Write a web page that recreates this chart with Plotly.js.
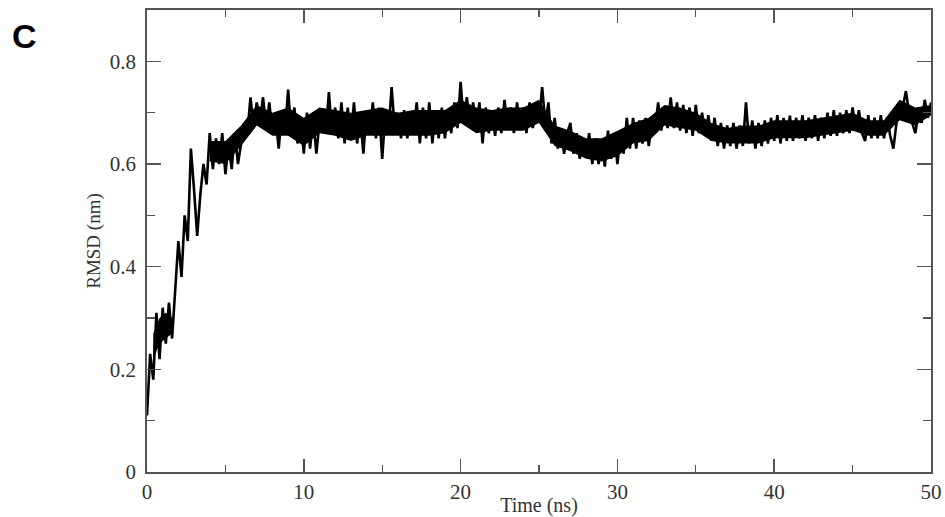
<!DOCTYPE html>
<html>
<head>
<meta charset="utf-8">
<script src="https://cdn.plot.ly/plotly-3.0.1.min.js"></script>
<style>html,body{margin:0;padding:0;background:#fff;}#chart{width:945px;height:517px;}</style>
</head>
<body>
<div id="chart"></div>
<script>
const timeStart = 0;
const timeStep = 0.2;
const rmsd = [
  0.11, 0.23, 0.18, 0.31, 0.22,
  0.32, 0.25, 0.33, 0.26, 0.36,
  0.45, 0.38, 0.50, 0.45, 0.63,
  0.55, 0.46, 0.54, 0.60, 0.56,
  0.66, 0.59, 0.65, 0.60, 0.66,
  0.58, 0.64, 0.59, 0.66, 0.60,
  0.64, 0.68, 0.66, 0.73, 0.67,
  0.72, 0.68, 0.73, 0.67, 0.72,
  0.66, 0.69, 0.63, 0.70, 0.66,
  0.745, 0.66, 0.71, 0.64, 0.69,
  0.62, 0.70, 0.63, 0.69, 0.62,
  0.68, 0.70, 0.66, 0.74, 0.66,
  0.71, 0.65, 0.72, 0.64, 0.71,
  0.65, 0.72, 0.64, 0.69, 0.62,
  0.70, 0.66, 0.72, 0.65, 0.71,
  0.61, 0.70, 0.66, 0.75, 0.67,
  0.70, 0.65, 0.705, 0.65, 0.70,
  0.66, 0.72, 0.64, 0.71, 0.65,
  0.72, 0.64, 0.70, 0.65, 0.71,
  0.65, 0.70, 0.66, 0.72, 0.67,
  0.76, 0.68, 0.73, 0.675, 0.72,
  0.67, 0.72, 0.64, 0.71, 0.66,
  0.70, 0.655, 0.71, 0.66, 0.725,
  0.67, 0.71, 0.66, 0.72, 0.67,
  0.71, 0.66, 0.72, 0.67, 0.70,
  0.68, 0.75, 0.68, 0.72, 0.64,
  0.69, 0.63, 0.67, 0.62, 0.66,
  0.68, 0.62, 0.66, 0.61, 0.65,
  0.62, 0.66, 0.60, 0.65, 0.60,
  0.64, 0.595, 0.665, 0.61, 0.66,
  0.60, 0.66, 0.62, 0.69, 0.63,
  0.69, 0.63, 0.685, 0.64, 0.69,
  0.635, 0.68, 0.67, 0.72, 0.665,
  0.71, 0.67, 0.73, 0.67, 0.72,
  0.665, 0.715, 0.66, 0.71, 0.655,
  0.715, 0.66, 0.70, 0.655, 0.695,
  0.645, 0.69, 0.635, 0.68, 0.63,
  0.675, 0.635, 0.68, 0.63, 0.675,
  0.635, 0.72, 0.64, 0.685, 0.63,
  0.68, 0.635, 0.685, 0.64, 0.69,
  0.645, 0.695, 0.64, 0.69, 0.645,
  0.694, 0.645, 0.69, 0.65, 0.695,
  0.645, 0.69, 0.65, 0.695, 0.645,
  0.69, 0.65, 0.70, 0.655, 0.705,
  0.655, 0.70, 0.66, 0.705, 0.66,
  0.71, 0.665, 0.705, 0.66, 0.645,
  0.695, 0.65, 0.69, 0.65, 0.695,
  0.65, 0.69, 0.655, 0.63, 0.68,
  0.70, 0.71, 0.742, 0.70, 0.68,
  0.66, 0.70, 0.68, 0.725, 0.69,
  0.72
];
// solid core of the early noisy band, read every 0.4 ns from 0.4 to 1.6 ns
const earlyStart = 0.4;
const earlyStep = 0.4;
const earlyLow = [0.22, 0.25, 0.26, 0.27];
const earlyHigh = [0.27, 0.30, 0.31, 0.30];
// solid core of the noisy band, read every 1 ns from 4 to 50 ns
const bandStart = 4;
const bandStep = 1;
const bandLow = [
  0.605, 0.60, 0.635, 0.675, 0.655, 0.655,
  0.635, 0.66, 0.655, 0.645, 0.655, 0.655, 0.655, 0.655, 0.655, 0.66,
  0.68, 0.66, 0.665, 0.665, 0.665, 0.68, 0.635, 0.625, 0.61, 0.605,
  0.615, 0.64, 0.645, 0.675, 0.67, 0.665, 0.645, 0.64, 0.64, 0.64,
  0.65, 0.65, 0.65, 0.655, 0.66, 0.665, 0.655, 0.655, 0.685, 0.675,
  0.695
];
const bandHigh = [
  0.645, 0.645, 0.675, 0.715, 0.70, 0.71,
  0.69, 0.71, 0.705, 0.70, 0.705, 0.71, 0.70, 0.705, 0.705, 0.705,
  0.725, 0.71, 0.705, 0.71, 0.71, 0.725, 0.675, 0.665, 0.65, 0.65,
  0.665, 0.68, 0.69, 0.715, 0.71, 0.70, 0.68, 0.67, 0.675, 0.675,
  0.685, 0.685, 0.685, 0.69, 0.695, 0.70, 0.685, 0.685, 0.725, 0.71,
  0.715
];
const xTickVals = [0, 10, 20, 30, 40, 50];
const yTickVals = [0, 0.2, 0.4, 0.6, 0.8];
const yTickText = ['0', '0.2', '0.4', '0.6', '0.8'];
const xTitle = 'Time (ns)';
const yTitle = 'RMSD (nm)';
const panelLabel = 'C';

const axisColor = '#555';
const serif = 'Liberation Serif, DejaVu Serif, serif';
const tickFont = {family: serif, size: 21, color: '#333'};

function bandPair(start, step, low, high) {
  return [
    {type: 'scatter', mode: 'lines', x0: start, dx: step, y: low,
     line: {color: '#000', width: 0}, hoverinfo: 'skip'},
    {type: 'scatter', mode: 'lines', x0: start, dx: step, y: high,
     line: {color: '#000', width: 0}, fill: 'tonexty', fillcolor: '#000', hoverinfo: 'skip'}
  ];
}
const trace = {
  type: 'scatter',
  mode: 'lines',
  x0: timeStart,
  dx: timeStep,
  y: rmsd,
  line: {color: '#000', width: 2.6},
  hoverinfo: 'skip'
};

const layout = {
  width: 945,
  height: 517,
  margin: {l: 147, r: 14, t: 10, b: 45},
  paper_bgcolor: '#fff',
  plot_bgcolor: '#fff',
  showlegend: false,
  xaxis: {
    range: [0, 50],
    tickvals: xTickVals,
    ticks: 'inside',
    ticklen: 13,
    tickwidth: 1.5,
    tickcolor: axisColor,
    minor: {ticks: 'inside', dtick: 5, tick0: 0, ticklen: 7, tickwidth: 1.3, tickcolor: axisColor},
    showline: true,
    linecolor: axisColor,
    linewidth: 1.8,
    mirror: 'ticks',
    showgrid: false,
    zeroline: false,
    tickfont: tickFont,
    ticklabelstandoff: 0,
    title: {text: xTitle, font: {family: serif, size: 20, color: '#333'}, standoff: 2},
    automargin: false
  },
  yaxis: {
    range: [0, 0.9],
    tickvals: yTickVals,
    ticktext: yTickText,
    ticks: 'inside',
    ticklen: 14,
    tickwidth: 1.5,
    tickcolor: axisColor,
    minor: {ticks: 'inside', dtick: 0.1, tick0: 0, ticklen: 8, tickwidth: 1.3, tickcolor: axisColor},
    showline: true,
    linecolor: axisColor,
    linewidth: 1.8,
    mirror: 'ticks',
    showgrid: false,
    zeroline: false,
    tickfont: tickFont,
    ticklabelstandoff: 5,
    title: {text: yTitle, font: {family: serif, size: 19, color: '#333'}, standoff: 4},
    automargin: false
  },
  annotations: [{
    text: panelLabel,
    xref: 'paper', yref: 'paper',
    x: -0.175, y: 0.99,
    xanchor: 'left', yanchor: 'top',
    showarrow: false,
    font: {family: 'Liberation Sans, Arial, sans-serif', size: 34, color: '#000', weight: 'bold'}
  }]
};

const data = [
  ...bandPair(earlyStart, earlyStep, earlyLow, earlyHigh),
  ...bandPair(bandStart, bandStep, bandLow, bandHigh),
  trace
];
Plotly.newPlot('chart', data, layout, {displayModeBar: false, staticPlot: true});
</script>
</body>
</html>
